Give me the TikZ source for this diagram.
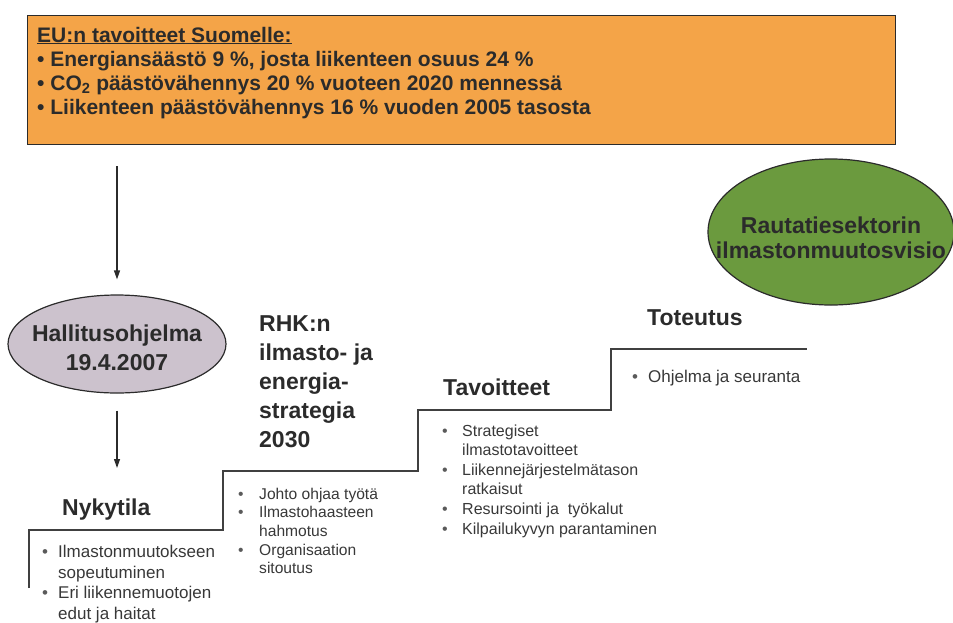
\documentclass[tikz,border=0pt]{standalone}
\usepackage{fontspec}
\setmainfont{Liberation Sans}
\usetikzlibrary{shapes.geometric,arrows.meta}
\definecolor{boxorange}{HTML}{F4A448}
\definecolor{ovalgray}{HTML}{CCC2CD}
\definecolor{ovalgreen}{HTML}{6B9A3E}
\definecolor{ink}{HTML}{2B2B2B}
\definecolor{softink}{HTML}{383838}
\definecolor{dotink}{HTML}{5A5A5A}
\definecolor{lineink}{HTML}{404040}
\newcommand\mybul[1]{\makebox[#1][l]{\textcolor{dotink}{•}}}
\newcommand\myskip[1]{\hspace*{#1}}
\tikzset{
  outline/.style={draw=ink, line width=1.2pt},
  heading/.style={anchor=base west, align=left, text=ink, inner sep=0pt, font=\fontsize{23}{29}\selectfont\bfseries},
  bullets/.style={anchor=base west, align=left, text=softink, inner sep=0pt},
  arr/.style={draw=ink, line width=1.2pt, -{Triangle[length=9pt,width=6pt]}},
  stair/.style={draw=lineink, line width=1.6pt}
}
\begin{document}
\begin{tikzpicture}[x=1pt,y=-1pt]
\path[use as bounding box] (0,0) rectangle (953,622);
\begin{scope}
\clip (0,0) rectangle (953,622);
% top orange box
\node[outline, fill=boxorange, rectangle, inner sep=0pt, minimum width=868pt, minimum height=129pt, anchor=north west] (eu) at (27,15) {};
% (multi-line nodes are anchored at the baseline of their last line)
\node[anchor=base west, align=left, text=ink, inner sep=0pt, font=\fontsize{21}{24}\selectfont\bfseries] (eutext) at (37,114)
 {\underline{EU:n tavoitteet Suomelle:}\\
  • Energiansäästö 9 \%, josta liikenteen osuus 24 \%\\
  • CO\textsubscript{2} päästövähennys 20 \% vuoteen 2020 mennessä\\
  • Liikenteen päästövähennys 16 \% vuoden 2005 tasosta};
% gray ellipse
\node[outline, fill=ovalgray, ellipse, inner sep=0pt, minimum width=218pt, minimum height=98pt] (hall) at (117,344) {};
\node[anchor=base, align=center, text=ink, inner sep=0pt, font=\fontsize{23}{29}\selectfont\bfseries] (halltext) at (117,370) {Hallitusohjelma\\19.4.2007};
% green ellipse
\node[outline, fill=ovalgreen, ellipse, inner sep=0pt, minimum width=246pt, minimum height=146pt] (vision) at (831,232) {};
\node[anchor=base, align=center, text=ink, inner sep=0pt, font=\fontsize{23}{25}\selectfont\bfseries] (visiontext) at (831,258) {Rautatiesektorin\\ilmastonmuutosvisio};
\end{scope}
% arrows
\draw[arr, shorten <=21pt, shorten >=15pt] (eu.south -| hall.north) -- (hall.north);
\coordinate (a2end) at (117,468);
\draw[arr, shorten <=17pt] (hall.south) -- (a2end);
% staircase
\coordinate (s0) at (29,588);
\coordinate (s1) at (29,530);
\coordinate (s2) at (223,530);
\coordinate (s3) at (223,471);
\coordinate (s4) at (418,471);
\coordinate (s5) at (418,410);
\coordinate (s6) at (611,410);
\coordinate (s7) at (611,349);
\coordinate (s8) at (807,349);
\draw[stair] (s0) -- (s1) -- (s2) -- (s3) -- (s4) -- (s5) -- (s6) -- (s7) -- (s8);
% headings
\node[heading] (nyk) at (62,515) {Nykytila};
\node[heading] (rhk) at (259,447) {RHK:n\\ilmasto- ja\\energia-\\strategia\\2030};
\node[heading] (tav) at (443,395) {Tavoitteet};
\node[heading] (tot) at (647,325) {Toteutus};
% bullet lists
\node[bullets, font=\fontsize{17}{20.4}\selectfont] (nyklist) at (42,619)
 {\mybul{16pt}Ilmastonmuutokseen\\\myskip{16pt}sopeutuminen\\\mybul{16pt}Eri liikennemuotojen\\\myskip{16pt}edut ja haitat};
\node[bullets, font=\fontsize{15.6}{18.7}\selectfont] (rhklist) at (238,573.8)
 {\mybul{21pt}Johto ohjaa työtä\\\mybul{21pt}Ilmastohaasteen\\\myskip{21pt}hahmotus\\\mybul{21pt}Organisaation\\\myskip{21pt}sitoutus};
\node[bullets, font=\fontsize{16}{19.6}\selectfont] (tavlist) at (442,534)
 {\mybul{20pt}Strategiset\\\myskip{20pt}ilmastotavoitteet\\\mybul{20pt}Liikennejärjestelmätason\\\myskip{20pt}ratkaisut\\\mybul{20pt}Resursointi ja\ \ työkalut\\\mybul{20pt}Kilpailukyvyn parantaminen};
\node[bullets, font=\fontsize{17}{20.6}\selectfont] (totlist) at (632,382)
 {\mybul{16pt}Ohjelma ja seuranta};
\end{tikzpicture}
\end{document}
